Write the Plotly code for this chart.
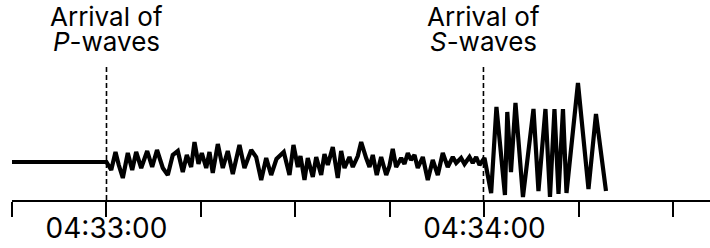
import plotly.graph_objects as go

# time in seconds after 04:32:45
t_s = [0.0, 15.0,
       15.75, 16.43, 16.95, 17.59, 18.38, 19.08, 19.71, 20.51, 21.46, 22.25,
       23.02, 23.94, 24.73, 25.52, 26.32, 27.11, 27.75, 28.44, 28.97, 29.6,
       30.13, 30.83, 31.35, 31.87, 32.67, 33.46, 34.25, 35.05, 36.11, 36.9,
       37.97, 38.76, 39.56, 40.35, 41.14, 41.98, 43.14, 44.05, 44.68, 45.37,
       45.79, 46.43, 46.95, 47.75, 48.29, 49.08, 49.6, 50.13, 50.92, 51.71,
       52.25, 52.78, 53.57, 54.1, 54.89, 55.43, 56.22, 56.75, 57.27, 57.9,
       58.6, 59.4, 59.92, 60.44, 60.98, 61.78, 62.3, 62.83, 63.33, 63.89,
       64.41, 65.21, 66.0, 66.79, 67.59, 68.38, 69.17, 69.97, 70.51, 71.29,
       71.83, 72.62, 73.14, 73.68, 74.21, 75.0,
       76.06, 76.90, 78.25, 78.62, 79.21, 79.92, 81.11, 82.78, 83.57, 84.68,
       85.40, 86.11, 86.75, 87.46, 88.02, 89.84, 91.51, 92.70, 94.29]
amplitude = [0, 0,
             -8, 10, -3, -16, 9, -8, 10, -6, 11, -5,
             12, -6, -13, 7, 11, -10, 7, -5, 20, -2,
             9, -6, 10, -11, 18, -6, 11, -12, 17, -6,
             12, 5, -18, 4, -13, 3, 10, -13, 17, -5,
             6, -18, 4, -15, 5, -13, 8, -3, 15, -16,
             11, -6, 5, -5, 6, 20, 4, -5, 7, -13,
             5, -13, -4, 13, -5, 4, -2, 9, 2, 7,
             -6, 5, -18, 2, -13, 9, -5, 5, -1, 4,
             -2, 5, -1, 5, -3, 4,
             -31, 55, -33, 50, -10, 59, -35, 53, -29, 53,
             -35, 53, -32, 53, -31, 79, -27, 48, -29]

tick_vals = [0, 15, 30, 45, 60, 75, 90, 105]
tick_text = ["", "04:33:00", "", "", "", "04:34:00", "", ""]
p_arrival = 15.0
s_arrival = 74.84
label_line1 = "Arrival of"
p_label = "<i>P</i>-waves"
s_label = "<i>S</i>-waves"

FONT = "Inter, Liberation Sans, Arial, sans-serif"

fig = go.Figure()
fig.add_trace(go.Scatter(x=t_s, y=amplitude, mode="lines",
                         line=dict(color="black", width=4.2), hoverinfo="skip",
                         cliponaxis=False))

for xa in (p_arrival, s_arrival):
    fig.add_shape(type="line", x0=xa, x1=xa, y0=-38, y1=95, xref="x", yref="y",
                  line=dict(color="black", width=1.6, dash="5px,3px"), layer="below")

for xa, lab in ((p_arrival, p_label), (s_arrival, s_label)):
    fig.add_annotation(x=xa, y=145.5, xref="x", yref="y", text=label_line1,
                       showarrow=False, xanchor="center", yanchor="middle",
                       font=dict(family=FONT, size=26, color="black"))
    fig.add_annotation(x=xa, y=120.5, xref="x", yref="y", text=lab,
                       showarrow=False, xanchor="center", yanchor="middle",
                       font=dict(family=FONT, size=26, color="black"))

fig.update_layout(
    width=710, height=248,
    margin=dict(l=12, r=0, t=0, b=48, autoexpand=False),
    paper_bgcolor="white", plot_bgcolor="white",
    showlegend=False,
    xaxis=dict(range=[0, 110.8], tickmode="array", tickvals=tick_vals,
               ticktext=tick_text, ticks="outside", ticklen=15, tickwidth=1.5,
               tickcolor="black", showline=True, linecolor="black", linewidth=2,
               showgrid=False, zeroline=False, ticklabelstandoff=-13,
               automargin=False,
               tickfont=dict(family=FONT, size=28, color="black")),
    yaxis=dict(range=[-38, 162], visible=False, showgrid=False, zeroline=False,
               automargin=False),
)

fig.write_html("out.html", config={"displayModeBar": False},
               post_script="document.body.style.margin='0';document.body.style.overflow='hidden';")
